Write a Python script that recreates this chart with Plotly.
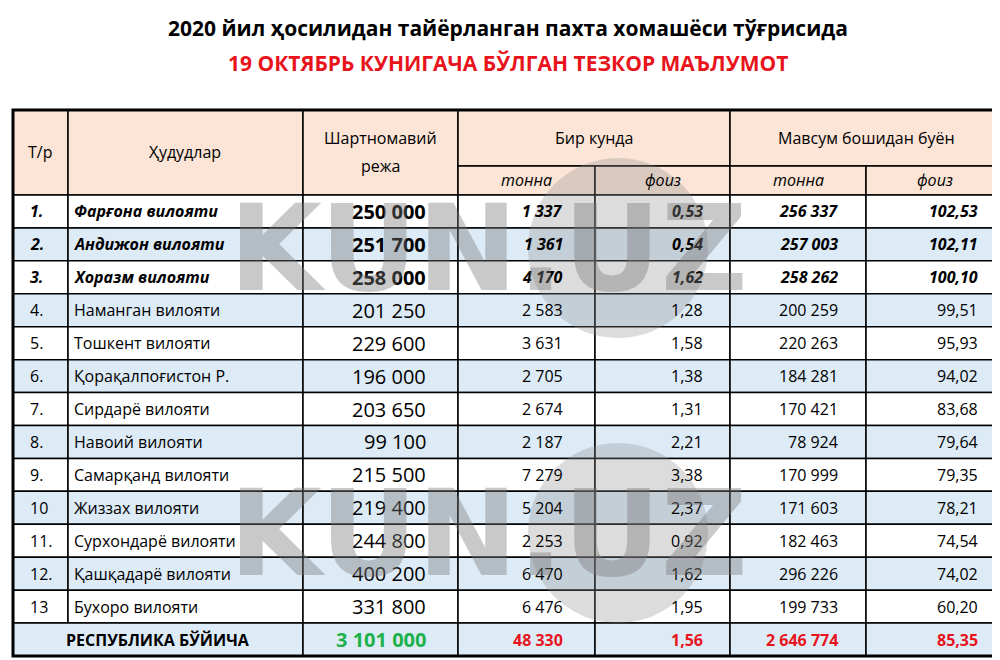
import plotly.graph_objects as go

title1 = "2020 йил ҳосилидан тайёрланган пахта хомашёси тўғрисида"
title2 = "19 ОКТЯБРЬ КУНИГАЧА БЎЛГАН ТЕЗКОР МАЪЛУМОТ"

nums = ["1.", "2.", "3.", "4.", "5.", "6.", "7.", "8.", "9.", "10", "11.", "12.", "13"]
regions = ["Фарғона вилояти", "Андижон вилояти", "Хоразм вилояти", "Наманган вилояти",
           "Тошкент вилояти", "Қорақалпоғистон Р.", "Сирдарё вилояти", "Навоий вилояти",
           "Самарқанд вилояти", "Жиззах вилояти", "Сурхондарё вилояти", "Қашқадарё вилояти",
           "Бухоро вилояти"]
plan = ["250 000", "251 700", "258 000", "201 250", "229 600", "196 000", "203 650",
        "99 100", "215 500", "219 400", "244 800", "400 200", "331 800"]
day_t = ["1 337", "1 361", "4 170", "2 583", "3 631", "2 705", "2 674", "2 187",
         "7 279", "5 204", "2 253", "6 470", "6 476"]
day_p = ["0,53", "0,54", "1,62", "1,28", "1,58", "1,38", "1,31", "2,21", "3,38",
         "2,37", "0,92", "1,62", "1,95"]
season_t = ["256 337", "257 003", "258 262", "200 259", "220 263", "184 281", "170 421",
            "78 924", "170 999", "171 603", "182 463", "296 226", "199 733"]
season_p = ["102,53", "102,11", "100,10", "99,51", "95,93", "94,02", "83,68", "79,64",
            "79,35", "78,21", "74,54", "74,02", "60,20"]
total = ["РЕСПУБЛИКА БЎЙИЧА", "3 101 000", "48 330", "1,56", "2 646 774", "85,35"]

FONT = "Open Sans, sans-serif"
xs = [5, 60, 295, 450, 587, 722, 858, 995]
top, sub, hbot = 102, 158, 187
rh = (648 - hbot) / 14

fig = go.Figure()
shapes = []
ann = []


def rect(x0, y0, x1, y1, fill, w=1.5):
    shapes.append(dict(type="rect", x0=x0, y0=y0, x1=x1, y1=y1, xref="x", yref="y",
                       fillcolor=fill, line=dict(color="black", width=w), layer="below"))


def txt(x, y, s, anchor="center", size=16, color="black", bold=False, italic=False):
    if bold:
        s = "<b>" + s + "</b>"
    if italic:
        s = "<i>" + s + "</i>"
    ann.append(dict(x=x, y=y, xref="x", yref="y", text=s, showarrow=False, xanchor=anchor,
                    yanchor="middle", font=dict(family=FONT, size=size, color=color)))


peach = "#FCE4D6"
blue = "#DDEBF7"
# header
rect(xs[0], top, xs[1], hbot, peach)
rect(xs[1], top, xs[2], hbot, peach)
rect(xs[2], top, xs[3], hbot, peach)
rect(xs[3], top, xs[5], sub, peach)
rect(xs[5], top, xs[7], sub, peach)
for i in range(3, 7):
    rect(xs[i], sub, xs[i + 1], hbot, peach)
txt(32, 144, "Т/р")
txt(177, 144, "Ҳудудлар")
txt(372, 130, "Шартномавий")
txt(372, 158, "режа")
txt(586, 130, "Бир кунда")
txt(858, 130, "Мавсум бошидан буён")
for i, s in zip(range(3, 7), ["тонна", "фоиз", "тонна", "фоиз"]):
    txt((xs[i] + xs[i + 1]) / 2, 172, s, italic=True)

rights = [420, 557, 697, 832, 972]
for r in range(13):
    y0 = hbot + r * rh
    fill = "white" if r % 2 == 0 else blue
    for i in range(7):
        rect(xs[i], y0, xs[i + 1], y0 + rh, fill)
    yc = y0 + rh / 2
    b = r < 3
    txt(20, yc, nums[r], "left", bold=b, italic=b)
    txt(64, yc, regions[r], "left", bold=b, italic=b)
    txt(rights[0], yc, plan[r], "right", size=20, bold=b)
    for k, col in enumerate([day_t, day_p, season_t, season_p]):
        txt(rights[k + 1], yc, col[r], "right", bold=b, italic=b)

y0 = hbot + 13 * rh
rect(xs[0], y0, xs[2], y0 + rh, blue)
for i in range(2, 7):
    rect(xs[i], y0, xs[i + 1], y0 + rh, blue)
yc = y0 + rh / 2
txt(150, yc, total[0], bold=True)
txt(rights[0], yc, total[1], "right", size=20, color="#1DB14B", bold=True)
for k in range(4):
    txt(rights[k + 1], yc, total[k + 2], "right", color="#E8141C", bold=True)

# outer frame
shapes.append(dict(type="rect", x0=xs[0], y0=top, x1=xs[7], y1=648, xref="x", yref="y",
                   line=dict(color="black", width=3)))

# watermark
for cy in [240, 525]:
    shapes.append(dict(type="circle", x0=520, y0=cy - 90, x1=700, y1=cy + 90, xref="x", yref="y",
                       fillcolor="rgba(140,140,140,0.3)", line=dict(width=0)))
    ann.append(dict(x=480, y=cy, xref="x", yref="y", text="<b>KUN.UZ</b>", showarrow=False,
                    font=dict(family="DejaVu Sans", size=120, color="rgba(120,120,120,0.4)")))

txt(500, 20, title1, size=21, bold=True)
txt(500, 55, title2, size=21, color="#E8141C", bold=True)

fig.update_layout(width=1000, height=660, margin=dict(l=0, r=0, t=0, b=0),
                  plot_bgcolor="white", paper_bgcolor="white",
                  xaxis=dict(range=[0, 1000], visible=False, fixedrange=True),
                  yaxis=dict(range=[660, 0], visible=False, fixedrange=True),
                  shapes=shapes, annotations=ann, showlegend=False)
fig.write_html("out.html")
